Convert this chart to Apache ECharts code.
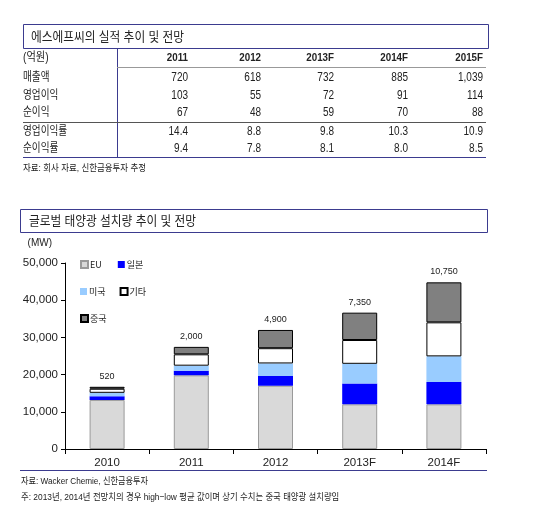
<!DOCTYPE html>
<html><head><meta charset="utf-8">
<script src="https://cdn.jsdelivr.net/npm/echarts@6/dist/echarts.min.js"></script>
<style>html,body{margin:0;padding:0;background:#fff}#c{width:550px;height:524px}</style>
</head><body><div id="c"></div>
<script>
// ---- Table data ----
const tableTitle = '에스에프씨의 실적 추이 및 전망';
const tableUnit = '(억원)';
const tableYears = ['2011', '2012', '2013F', '2014F', '2015F'];
const rowNames = ['매출액', '영업이익', '순이익', '영업이익률', '순이익률'];
const sales = [720, 618, 732, 885, 1039];
const opProfit = [103, 55, 72, 91, 114];
const netProfit = [67, 48, 59, 70, 88];
const opMargin = [14.4, 8.8, 9.8, 10.3, 10.9];
const netMargin = [9.4, 7.8, 8.1, 8.0, 8.5];
const tableSource = '자료: 회사 자료, 신한금융투자 추정';

// ---- Chart data ----
const chartTitle = '글로벌 태양광 설치량 추이 및 전망';
const categories = ['2010', '2011', '2012', '2013F', '2014F'];
const seriesNames = ['EU', '일본', '미국', '기타', '중국'];
const eu = [13200, 19800, 17000, 12000, 12000];
const japan = [1000, 1250, 2600, 5600, 6000];
const usa = [900, 1350, 3400, 5300, 6900];
const others = [1100, 3050, 4100, 6400, 9150];
const china = [520, 2000, 4900, 7350, 10750];
const yMax = 50000, yStep = 10000;
const unitLabel = '(MW)';
const source1 = '자료: Wacker Chemie, 신한금융투자';
const source2 = '주: 2013년, 2014년 전망치의 경우 high−low 평균 값이며 상기 수치는 중국 태양광 설치량임';

const FONT = '"Liberation Sans", Arial, "Noto Sans CJK KR", sans-serif';
const NAVY = '#3b3b8f';
const fmt = v => v.toLocaleString('en-US');

function txt(x, y, s, o) {
  o = o || {};
  return {
    type: 'text', x: x, y: y, scaleX: o.sx || 1, silent: true,
    style: {
      text: s, x: 0, y: 0, fill: o.color || '#222',
      font: (o.bold ? 'bold ' : '') + (o.size || 11) + 'px ' + FONT,
      textAlign: o.align || 'left', textVerticalAlign: 'middle',
      align: o.align || 'left', verticalAlign: 'middle'
    }
  };
}
function line(x1, y1, x2, y2, color, w) {
  return { type: 'line', silent: true, shape: { x1: x1, y1: y1, x2: x2, y2: y2 },
    style: { stroke: color, lineWidth: w || 1 } };
}

const g = [];
// Table title box
g.push({ type: 'rect', silent: true, shape: { x: 23.5, y: 24.5, width: 465, height: 24 },
  style: { fill: 'none', stroke: NAVY, lineWidth: 1 } });
g.push(txt(31, 37, tableTitle, { size: 13, sx: 0.9, color: '#222' }));
const colRight = [188, 261, 334, 408, 483];
const rowY = [78, 96, 113, 132, 149];
g.push(txt(23, 58, tableUnit, { size: 12, sx: 0.85 }));
tableYears.forEach((y, i) => g.push(txt(colRight[i], 58, y, { size: 11.5, sx: 0.85, bold: true, align: 'right' })));
const rows = [sales.map(fmt), opProfit.map(fmt), netProfit.map(fmt),
  opMargin.map(v => v.toFixed(1)), netMargin.map(v => v.toFixed(1))];
rowNames.forEach((n, r) => {
  g.push(txt(23, rowY[r], n, { size: 12, sx: 0.8 }));
  rows[r].forEach((v, i) => g.push(txt(colRight[i], rowY[r], v, { size: 12.5, sx: 0.8, align: 'right' })));
});
g.push(line(117.5, 48.5, 117.5, 157.5, NAVY, 1));
g.push(line(117, 67.5, 486, 67.5, '#999', 1));
g.push(line(23, 122.5, 486, 122.5, '#555', 1));
g.push(line(23, 157.5, 486, 157.5, NAVY, 1));
g.push(txt(23, 168, tableSource, { size: 9.5, sx: 0.89 }));

// Chart title box
g.push({ type: 'rect', silent: true, shape: { x: 20.5, y: 209.5, width: 467, height: 23 },
  style: { fill: 'none', stroke: NAVY, lineWidth: 1 } });
g.push(txt(29, 221, chartTitle, { size: 13, sx: 0.9 }));
g.push(line(20, 470.5, 487, 470.5, NAVY, 1));
g.push(txt(21, 481, source1, { size: 9.5, sx: 0.86 }));
g.push(txt(21, 497, source2, { size: 9.5, sx: 0.88 }));

const chart = echarts.init(document.getElementById('c'));
const styles = [
  { color: '#d9d9d9', borderColor: '#9a9a9a', borderWidth: 1 },
  { color: '#0000ff', borderWidth: 0 },
  { color: '#99ccff', borderWidth: 0 },
  { color: '#ffffff', borderColor: '#000', borderWidth: 1 },
  { color: '#808080', borderColor: '#000', borderWidth: 1 }
];
const dataSets = [eu, japan, usa, others, china];
const series = seriesNames.map((n, i) => ({
  name: n, type: 'bar', stack: 'total', barWidth: 35, data: dataSets[i],
  itemStyle: styles[i], emphasis: { disabled: true },
  label: i === 4 ? { show: true, position: 'top', distance: 6, color: '#222',
    fontSize: 9, fontFamily: FONT, formatter: p => fmt(p.value) } : { show: false }
}));

function legend(names, left, top, gap) {
  return { data: names, left: left, top: top, orient: 'horizontal', itemGap: gap,
    itemWidth: 7, itemHeight: 7, icon: 'rect', padding: 0, selectedMode: false,
    textStyle: { fontSize: 9, fontFamily: '"Noto Sans CJK KR", ' + FONT, color: '#222', padding: [0, 0, 0, -3] } };
}

chart.setOption({
  animation: false,
  backgroundColor: '#fff',
  graphic: g,
  legend: [legend(['EU', '일본'], 80, 260, 16), legend(['미국', '기타'], 80, 287, 14), legend(['중국'], 80, 314, 10)],
  grid: { left: 65, right: 64, top: 263, bottom: 75 },
  xAxis: {
    type: 'category', data: categories,
    axisLine: { lineStyle: { color: '#000', width: 1 } },
    axisTick: { show: true, length: 5, lineStyle: { color: '#000' } },
    axisLabel: { color: '#222', fontSize: 11.5, fontFamily: FONT, margin: 8 }
  },
  yAxis: {
    type: 'value', min: 0, max: yMax, interval: yStep,
    name: unitLabel, nameLocation: 'end', nameGap: 15,
    nameTextStyle: { color: '#222', fontSize: 10, fontFamily: FONT, align: 'right', padding: [0, 13, 0, 0] },
    axisLine: { show: true, lineStyle: { color: '#000', width: 1 } },
    axisTick: { show: true, length: 4, lineStyle: { color: '#000' } },
    splitLine: { show: false },
    axisLabel: { color: '#222', fontSize: 11.5, fontFamily: FONT, margin: 7, formatter: v => fmt(v) }
  },
  series: series
});
</script></body></html>
